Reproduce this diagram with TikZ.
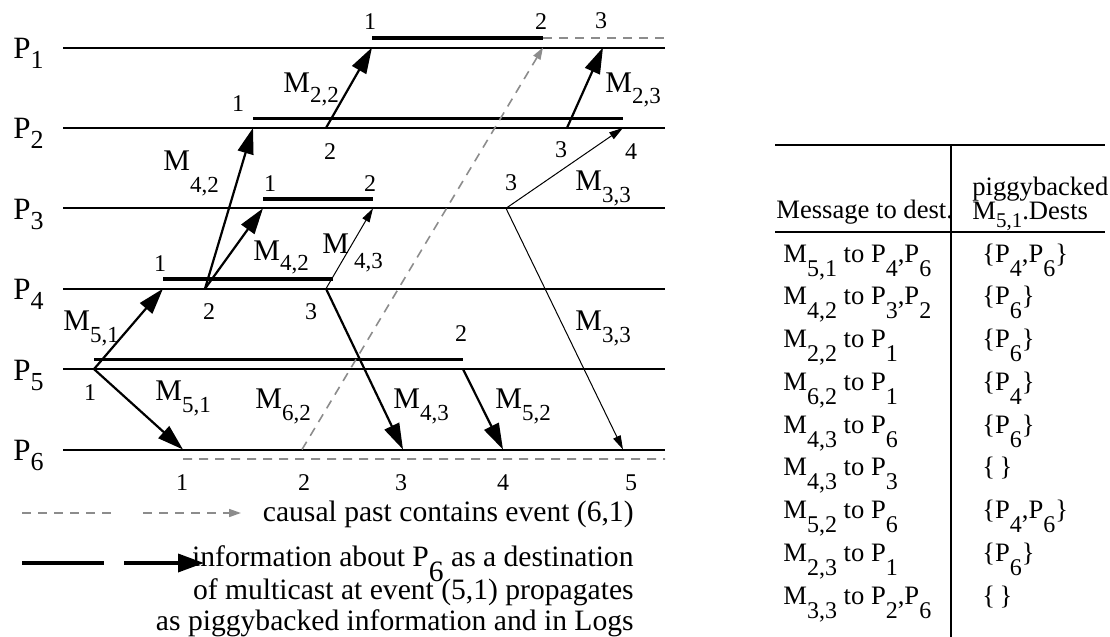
\documentclass[tikz,border=0pt]{standalone}
\usepackage{fontspec}
\setmainfont{Liberation Serif}
\usetikzlibrary{arrows.meta}
\definecolor{dashgray}{gray}{0.55}
\newcommand\lowsub[2][6pt]{\raisebox{-#1}{\fontsize{11.5}{12}\selectfont #2}}
\newcommand\tabsub[1]{\raisebox{-7pt}{\fontsize{12}{12}\selectfont #1}}

\begin{document}
\begin{tikzpicture}[x=0.5pt, y=-0.5pt,
    every node/.style={inner sep=0pt},
    proc/.style={line width=1pt},
    info/.style={line width=1.8pt},
    causal/.style={draw=dashgray, line width=0.8pt, dash pattern=on 4.5pt off 3.5pt},
    msg/.style={line width=1.1pt, -{Triangle[length=13pt, width=8pt]}},
    thinmsg/.style={line width=0.5pt, -{Triangle[length=7pt, width=4pt]}},
    causalmsg/.style={causal, -{Triangle[length=6pt, width=4pt]}},
    plab/.style={font=\fontsize{15.5}{16}\selectfont, anchor=base west},
    mlab/.style={font=\fontsize{15}{16}\selectfont, anchor=base west},
    evnum/.style={font=\fontsize{12}{13}\selectfont},
    legtext/.style={font=\fontsize{14.8}{15}\selectfont, anchor=base east},
    cell/.style={font=\fontsize{13.3}{14}\selectfont, anchor=base west},
    rule/.style={line width=1pt}
]
\useasboundingbox (0,0) rectangle (1110,637);

% ========== Process lines ==========
\foreach \i in {1,...,6} {
  \coordinate (L\i) at (63, {47.5+80.4*(\i-1)});
  \coordinate (R\i) at (665, {47.5+80.4*(\i-1)});
  \draw[proc] (L\i) -- (R\i);
  \node[plab] (P\i) at (13, {58.5+80.4*(\i-1)}) {P\raisebox{-5pt}{\fontsize{13}{13}\selectfont\i}};
}

% ========== Events ==========
\coordinate (e11) at (372, 47.5);
\coordinate (e12) at (543, 47.5);
\coordinate (e13) at (603, 47.5);
\coordinate (e21) at (253, 127.9);
\coordinate (e22) at (326, 127.9);
\coordinate (e23) at (567, 127.9);
\coordinate (e24) at (623, 127.9);
\coordinate (e31) at (263, 208.3);
\coordinate (e32) at (373, 208.3);
\coordinate (e33) at (506, 208.3);
\coordinate (e41) at (163, 288.7);
\coordinate (e42) at (205, 288.7);
\coordinate (e43) at (326, 288.7);
\coordinate (e51) at (94, 369.1);
\coordinate (e52) at (463, 369.1);
\coordinate (e61) at (183, 449.5);
\coordinate (e62) at (302, 449.5);
\coordinate (e63) at (403, 449.5);
\coordinate (e64) at (503, 449.5);
\coordinate (e65) at (623, 449.5);

% ========== Info about P6 (thick) and causal past (dashed) ==========
\draw[info] ([yshift=4.75pt]e11) -- ([yshift=4.75pt]e12);
\draw[causal] ([yshift=4.75pt]e12) -- ([yshift=4.75pt]R1);
\draw[info] ([yshift=4.75pt]e21) -- ([yshift=4.75pt]e24);
\draw[info] ([yshift=4.75pt]e31) -- ([yshift=4.75pt]e32);
\draw[info] ([yshift=4.75pt]e41) -- ([shift={(3.5pt,4.75pt)}]e43);
\draw[info] ([yshift=4.75pt]e51) -- ([yshift=4.75pt]e52);
\draw[causal] ([yshift=-4.75pt]e61) -- ([yshift=-4.75pt]R6);

% ========== Messages ==========
\draw[msg] (e51) -- (e41);
\draw[msg] (e51) -- (e61);
\draw[msg] (e42) -- (e21);
\draw[msg] (e42) -- (e31);
\draw[thinmsg] (e43) -- (e32);
\draw[msg] (e43) -- (e63);
\draw[msg] (e22) -- (e11);
\draw[causalmsg] (e62) -- (e12);
\draw[msg] (e52) -- (e64);
\draw[msg] (e23) -- (e13);
\draw[thinmsg] (e33) -- (e24);
\draw[thinmsg] (e33) -- (e65);

% Message labels
\node[mlab] (m51a) at (63, 330) {M\lowsub{5,1}};
\node[mlab] (m51b) at (155, 400) {M\lowsub{5,1}};
\node[mlab] (m62)  at (255, 408) {M\lowsub{6,2}};
\node[mlab] (m42a) at (163, 170) {M\lowsub[11pt]{4,2}};
\node[mlab] (m42b) at (253, 260) {M\lowsub[5pt]{4,2}};
\node[mlab] (m43a) at (322, 253) {M\hspace{2.5pt}\lowsub[7.5pt]{4,3}};
\node[mlab] (m43b) at (393, 408) {M\lowsub{4,3}};
\node[mlab] (m52)  at (495, 408) {M\lowsub{5,2}};
\node[mlab] (m22)  at (283, 92)  {M\lowsub[5pt]{2,2}};
\node[mlab] (m23)  at (605, 92)  {M\lowsub[5.5pt]{2,3}};
\node[mlab] (m33a) at (575, 190) {M\lowsub{3,3}};
\node[mlab] (m33b) at (575, 330) {M\lowsub{3,3}};

% Event numbers
\node[evnum] (n11) at (370, 22)  {1};
\node[evnum] (n12) at (541, 22)  {2};
\node[evnum] (n13) at (601, 21)  {3};
\node[evnum] (n21) at (238, 104) {1};
\node[evnum] (n22) at (330, 152) {2};
\node[evnum] (n23) at (561, 150) {3};
\node[evnum] (n24) at (631, 152) {4};
\node[evnum] (n31) at (270, 184) {1};
\node[evnum] (n32) at (370, 184) {2};
\node[evnum] (n33) at (511, 183) {3};
\node[evnum] (n41) at (160, 264) {1};
\node[evnum] (n42) at (209, 312) {2};
\node[evnum] (n43) at (311, 312) {3};
\node[evnum] (n51) at (90, 393)  {1};
\node[evnum] (n52) at (461, 334) {2};
\node[evnum] (n61) at (182, 483) {1};
\node[evnum] (n62) at (304, 483) {2};
\node[evnum] (n63) at (401, 483) {3};
\node[evnum] (n64) at (503, 483) {4};
\node[evnum] (n65) at (631, 483) {5};

% ========== Legend ==========
\coordinate (lgA) at (22, 513);  \coordinate (lgB) at (113, 513);
\coordinate (lgC) at (143, 513); \coordinate (lgD) at (241, 513);
\coordinate (lgE) at (22, 563);  \coordinate (lgF) at (104, 563);
\coordinate (lgG) at (124, 563); \coordinate (lgH) at (204, 563);
\draw[causal] (lgA) -- (lgB);
\draw[causalmsg] (lgC) -- (lgD);
\draw[info] (lgE) -- (lgF);
\draw[line width=1.8pt, -{Triangle[length=13pt, width=9pt]}] (lgG) -- (lgH);
\node[legtext] (leg1)  at (634, 521) {causal past contains event (6,1)};
\node[legtext] (leg2a) at (634, 566) {information about P\raisebox{-7.5pt}{6} as a destination};
\node[legtext] (leg2b) at (634, 599) {of multicast at event (5,1) propagates};
\node[legtext] (leg2c) at (634, 630) {as piggybacked information and in Logs};

% ========== Table ==========
\coordinate (tTL) at (775, 145); \coordinate (tTR) at (1105, 145);
\coordinate (tML) at (775, 232); \coordinate (tMR) at (1105, 232);
\coordinate (tVT) at (951, 145); \coordinate (tVB) at (951, 637);
\draw[rule] (tTL) -- (tTR);
\draw[rule] (tML) -- (tMR);
\draw[rule] (tVT) -- (tVB);

\node[cell] (hmsg) at (776, 218) {Message to dest.};
\node[cell] (hpig) at (972, 195) {piggybacked};
\node[cell] (hdst) at (972, 219) {M\raisebox{-4pt}{\fontsize{10.5}{10.5}\selectfont 5,1}.Dests};

\node[cell] (r1a) at (783, 262)    {M\tabsub{5,1} to P\tabsub{4},P\tabsub{6}};
\node[cell] (r1b) at (982, 262)    {\{P\tabsub{4},P\tabsub{6}\}};
\node[cell] (r2a) at (783, 304.75) {M\tabsub{4,2} to P\tabsub{3},P\tabsub{2}};
\node[cell] (r2b) at (982, 304.75) {\{P\tabsub{6}\}};
\node[cell] (r3a) at (783, 347.5)  {M\tabsub{2,2} to P\tabsub{1}};
\node[cell] (r3b) at (982, 347.5)  {\{P\tabsub{6}\}};
\node[cell] (r4a) at (783, 390.25) {M\tabsub{6,2} to P\tabsub{1}};
\node[cell] (r4b) at (982, 390.25) {\{P\tabsub{4}\}};
\node[cell] (r5a) at (783, 433)    {M\tabsub{4,3} to P\tabsub{6}};
\node[cell] (r5b) at (982, 433)    {\{P\tabsub{6}\}};
\node[cell] (r6a) at (783, 475.75) {M\tabsub{4,3} to P\tabsub{3}};
\node[cell] (r6b) at (982, 475.75) {\{\,\}};
\node[cell] (r7a) at (783, 518.5)  {M\tabsub{5,2} to P\tabsub{6}};
\node[cell] (r7b) at (982, 518.5)  {\{P\tabsub{4},P\tabsub{6}\}};
\node[cell] (r8a) at (783, 561.25) {M\tabsub{2,3} to P\tabsub{1}};
\node[cell] (r8b) at (982, 561.25) {\{P\tabsub{6}\}};
\node[cell] (r9a) at (783, 604)    {M\tabsub{3,3} to P\tabsub{2},P\tabsub{6}};
\node[cell] (r9b) at (982, 604)    {\{\,\}};

\end{tikzpicture}
\end{document}
